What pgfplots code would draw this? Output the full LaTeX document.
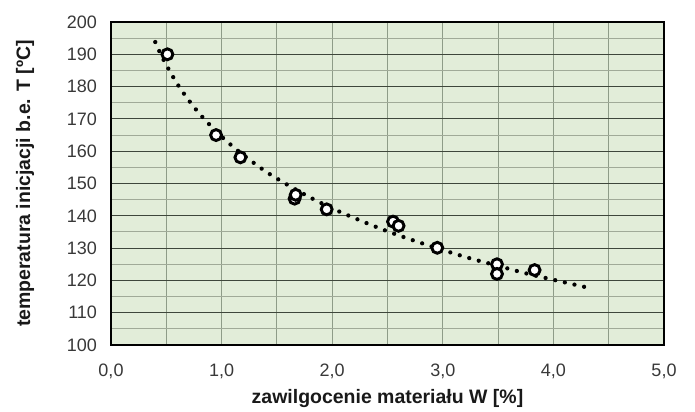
\documentclass[border=0pt]{standalone}
\usepackage{pgfplots}
\pgfplotsset{compat=1.18}
\usepackage{fontspec}
\setmainfont{Liberation Sans}
\definecolor{bgc}{HTML}{E2EDD9}
\definecolor{majh}{HTML}{3E463B}
\definecolor{minh}{HTML}{A0AA98}
\definecolor{vgr}{HTML}{8E9C88}
\begin{document}
\begin{tikzpicture}
\begin{axis}[
  scale only axis,
  width=414.75pt, height=242.25pt,
  xmin=0, xmax=5, ymin=100, ymax=200,
  xtick={0,1,2,3,4,5},
  minor xtick={0.5,1.5,2.5,3.5,4.5},
  ytick={100,110,...,200},
  minor ytick={105,115,...,195},
  xmajorgrids, xminorgrids, ymajorgrids, yminorgrids,
  major x grid style={draw=vgr, line width=0.8pt},
  minor x grid style={draw=vgr, line width=0.8pt},
  major y grid style={draw=majh, line width=0.8pt},
  minor y grid style={draw=minh, line width=0.8pt},
  major tick length=0pt, minor tick length=0pt,
  axis background/.style={fill=bgc},
  axis line style={black, line width=1.7pt},
  tick label style={font=\fontsize{13.5}{15}\selectfont, text=black!78},
  xticklabel style={yshift=-11pt},
  yticklabel style={xshift=-7pt},
  /pgf/number format/assume math mode=true,
  xticklabel={\pgfmathprintnumber[fixed, fixed zerofill, precision=1, use comma]{\tick}},
  yticklabel={\pgfmathprintnumber[fixed, precision=0]{\tick}},
  xlabel={\textbf{zawilgocenie materiału W [\%]}},
  ylabel={\textbf{temperatura inicjacji b.e. T [ºC]}},
  label style={font=\fontsize{14.6}{16}\selectfont, text=black!90},
  xlabel style={at={([yshift=-40pt]axis description cs:0.5,0)}, anchor=center},
  ylabel style={at={([xshift=-64.5pt]axis description cs:0,0.5)}, anchor=center},
  clip=false,
]
% log trendline (sampled values)
\addplot[black, line width=3.2pt, line cap=round, dash pattern=on 0pt off 7.4pt, smooth] coordinates {
(0.40,193.8) (0.45,190.0) (0.50,186.7) (0.60,180.8) (0.70,175.9) (0.80,171.6)
(0.90,167.9) (1.00,164.5) (1.10,161.5) (1.20,158.7) (1.40,153.7) (1.60,149.5)
(1.80,145.7) (2.00,142.3) (2.25,138.6) (2.50,135.2) (2.75,132.2) (3.00,129.4)
(3.25,126.8) (3.50,124.5) (3.75,122.2) (4.00,120.2) (4.28,118.0)
};
\addplot[only marks, mark=*, mark size=4.1pt, mark options={fill=white, draw=black, line width=2.2pt}] coordinates {
(0.51,190.0) (0.95,165.0) (1.17,158.1) (1.66,145.3) (1.67,146.5) (1.95,142.0)
(2.55,138.2) (2.60,136.9) (2.95,130.1) (3.49,125.0) (3.49,122.0) (3.83,123.2)
};
\end{axis}
\path (-83.25pt,-48.75pt) rectangle (438pt,258.75pt);
\end{tikzpicture}
\end{document}
